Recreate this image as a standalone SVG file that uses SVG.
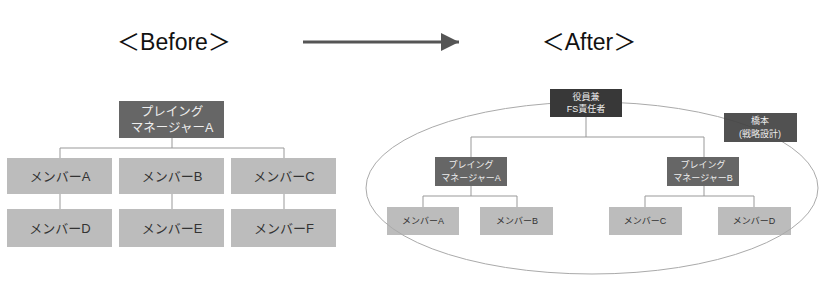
<svg xmlns="http://www.w3.org/2000/svg" width="828" height="292" viewBox="0 0 828 292">
<defs>
<style>
.t{font-family:"Liberation Sans","Noto Sans CJK JP",sans-serif;text-anchor:middle;dominant-baseline:central}
.lt{font-size:13px;fill:#333}
.dt{font-size:12.5px;fill:#eee}
.st{font-size:9px;fill:#333}
.sd{font-size:9px;fill:#eee}
.mem{fill:#bcbcbc}
.pm{fill:#666}
.ln{stroke:#999;stroke-width:1;fill:none}
</style>
<marker id="ah" viewBox="0 0 10 10" refX="10" refY="5" markerWidth="7.5" markerHeight="6" markerUnits="strokeWidth" orient="auto">
<path d="M0,0 L10,5 L0,10 z" fill="#555"/>
</marker>
</defs>
<rect width="828" height="292" fill="#fff"/>
<text class="t" x="174" y="42" font-size="23" fill="#111">＜Before＞</text>
<text class="t" x="589" y="42" font-size="23" fill="#111">＜After＞</text>
<g id="connectors">
<line x1="303" y1="42" x2="459" y2="42" stroke="#555" stroke-width="3" marker-end="url(#ah)"/>
<path class="ln" d="M172,138 V148 M60,148 H284 M60,148 V158 M284,148 V158 M60,194 V209 M172,194 V209 M284,194 V209"/>
<path class="ln" d="M586,117 V137 M471,137 H704 M471,137 V157 M704,137 V157 M471,186 V196 M423,196 H517 M423,196 V207 M517,196 V207 M704,186 V196 M645,196 H754 M645,196 V207 M754,196 V207"/>
</g>
<g id="pmA-before"><rect class="pm" x="119" y="101" width="105" height="37"/><text class="t dt" x="172" y="112">プレイング</text><text class="t dt" x="172" y="128">マネージャーA</text></g>
<g id="memA-before"><rect class="mem" x="7" y="158" width="105" height="36"/><text class="t lt" x="60" y="176">メンバーA</text></g>
<g id="memB-before"><rect class="mem" x="119" y="158" width="105" height="36"/><text class="t lt" x="172" y="176">メンバーB</text></g>
<g id="memC-before"><rect class="mem" x="231" y="158" width="105" height="36"/><text class="t lt" x="284" y="176">メンバーC</text></g>
<g id="memD-before"><rect class="mem" x="7" y="209" width="105" height="38"/><text class="t lt" x="60" y="228">メンバーD</text></g>
<g id="memE-before"><rect class="mem" x="119" y="209" width="105" height="38"/><text class="t lt" x="172" y="228">メンバーE</text></g>
<g id="memF-before"><rect class="mem" x="231" y="209" width="105" height="38"/><text class="t lt" x="284" y="228">メンバーF</text></g>
<g id="pmA-after"><rect class="pm" x="435" y="157" width="72" height="29"/><text class="t sd" x="471" y="165">プレイング</text><text class="t sd" x="471" y="178">マネージャーA</text></g>
<g id="pmB-after"><rect class="pm" x="667" y="157" width="72" height="29"/><text class="t sd" x="703" y="165">プレイング</text><text class="t sd" x="703" y="178">マネージャーB</text></g>
<g id="memA-after"><rect class="mem" x="387" y="207" width="72" height="28"/><text class="t st" x="423" y="221">メンバーA</text></g>
<g id="memB-after"><rect class="mem" x="480" y="207" width="73" height="28"/><text class="t st" x="517" y="221">メンバーB</text></g>
<g id="memC-after"><rect class="mem" x="609" y="207" width="73" height="28"/><text class="t st" x="645" y="221">メンバーC</text></g>
<g id="memD-after"><rect class="mem" x="718" y="207" width="73" height="28"/><text class="t st" x="754" y="221">メンバーD</text></g>
<g id="scope"><ellipse cx="592" cy="188" rx="226" ry="86" fill="none" stroke="#aaa" stroke-width="1"/></g>
<g id="hashimoto"><rect x="724" y="113" width="73" height="29" fill="#444" fill-opacity="0.93"/><text class="t sd" x="760" y="121">橋本</text><text class="t sd" x="760" y="134">(戦略設計)</text></g>
<g id="exec"><rect x="550" y="89" width="72" height="28" fill="#383838"/><text class="t sd" x="586" y="97">役員兼</text><text class="t sd" x="586" y="109">FS責任者</text></g>
</svg>
